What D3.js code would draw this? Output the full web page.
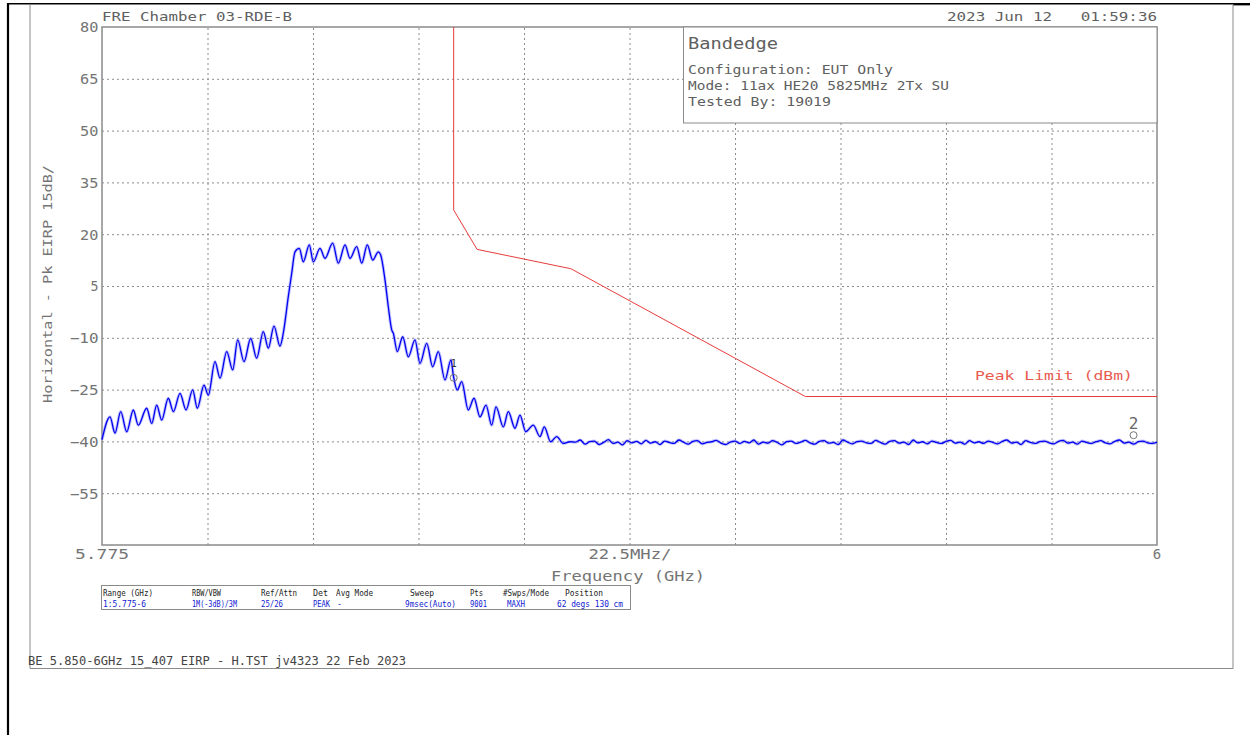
<!DOCTYPE html>
<html><head><meta charset="utf-8">
<script src="https://cdn.jsdelivr.net/npm/d3@7"></script>
<style>body{margin:0;background:#fff}svg{display:block}text{font-family:"DejaVu Sans Mono",monospace}</style>
</head><body><svg id="c" width="1250" height="735"></svg>
<script>
// ---- data (frequency in MHz, level in dBm) ----
const traceFreq=[5775.0,5776.71,5777.77,5778.99,5780.27,5781.68,5782.74,5784.53,5785.60,5786.67,5787.73,5789.14,5790.21,5791.64,5792.92,5794.34,5795.33,5796.75,5797.67,5799.10,5800.17,5801.60,5802.88,5803.94,5805.29,5806.71,5807.99,5809.40,5810.47,5811.68,5812.96,5813.67,5814.73,5815.46,5816.16,5817.08,5817.93,5819.21,5820.07,5821.49,5822.56,5824.20,5825.40,5826.83,5827.89,5829.32,5830.39,5831.58,5832.73,5833.93,5834.44,5835.36,5836.06,5836.79,5837.13,5837.98,5839.13,5840.33,5841.75,5842.82,5844.25,5845.53,5846.72,5848.15,5849.43,5849.92,5850.78,5851.71,5853.12,5854.34,5855.62,5856.90,5858.11,5859.03,5860.59,5861.65,5863.08,5864.15,5865.36,5866.98,5868.41,5869.33,5870.69,5871.97,5873.38,5874.81];
const traceLevel=[-39.5,-32.9,-37.6,-31.4,-37.2,-30.9,-35.3,-30.4,-34.8,-29.5,-33.8,-27.5,-31.4,-26.1,-30.9,-25.1,-30.4,-23.7,-26.6,-16.9,-21.7,-14.0,-19.3,-10.6,-16.9,-10.2,-15.9,-8.2,-13.0,-6.6,-12.4,-8.6,1.9,8.7,14.9,15.9,12.0,16.9,12.0,15.9,13.0,17.4,11.6,16.9,13.0,16.4,11.6,16.9,12.5,14.9,14.0,6.7,-1.0,-7.7,-8.7,-14.0,-9.7,-15.5,-10.6,-17.4,-11.6,-18.4,-14.0,-22.2,-16.4,-20.8,-25.1,-22.7,-30.9,-27.5,-32.9,-29.5,-35.3,-30.0,-35.8,-31.4,-36.2,-32.4,-37.2,-35.3,-38.6,-35.8,-40.1,-38.6,-40.6,-40.1];
const floorStart=5876, floorStep=1;
const floorLevel=[-40.2,-39.6,-40.8,-40.1,-39.9,-40.9,-40.3,-39.5,-40.6,-40.2,
-41.0,-39.8,-40.4,-40.0,-40.7,-39.7,-40.5,-40.1,-40.9,-39.9,
-40.3,-40.6,-39.6,-40.2,-40.8,-40.0,-39.8,-40.7,-40.3,-40.1,
-39.7,-40.5,-40.9,-40.2,-39.9,-40.6,-40.0,-40.4,-39.6,-40.8,
-40.2,-40.5,-39.8,-40.3,-41.0,-40.1,-39.9,-40.6,-40.2,-39.7,
-40.4,-40.8,-40.0,-39.8,-40.5,-40.3,-40.9,-39.6,-40.2,-40.7,
-40.1,-39.9,-40.4,-40.6,-39.7,-40.3,-40.8,-40.0,-39.8,-40.5,
-40.2,-40.9,-39.6,-40.4,-40.1,-40.7,-39.9,-40.3,-40.6,-40.0,
-39.7,-40.5,-40.2,-40.8,-39.8,-40.4,-40.1,-40.6,-39.9,-40.3,
-40.7,-40.0,-39.6,-40.5,-40.2,-40.9,-39.8,-40.3,-40.6,-40.1,
-39.9,-40.4,-40.7,-40.0,-39.7,-40.5,-40.2,-40.8,-39.9,-40.3,
-40.6,-40.1,-39.8,-40.4,-40.7,-40.0,-39.6,-40.5,-40.2,-40.8,
-40.1,-39.9,-40.4,-40.6,-40.2];
const limitFreq=[5850,5850,5855,5875,5925,6000];
const limitLevel=[80,27,15.6,10,-27,-27];
const yTicks=[80,65,50,35,20,5,-10,-25,-40,-55];
const yGrid=[65,50,35,20,5,-10,-25,-40,-55];
const xGrid=[5797.5,5820,5842.5,5865,5887.5,5910,5932.5,5955,5977.5];
const markerId=["1","2"], markerFreq=[5850,5995], markerLevel=[-21.6,-38.2];
const infoLines=["Configuration: EUT Only","Mode: 11ax HE20 5825MHz 2Tx SU","Tested By: 19019"];
const tableHead=["Range (GHz)","RBW/VBW","Ref/Attn","Det","Avg Mode","Sweep","Pts","#Swps/Mode","Position"];
const tableVal=["1:5.775-6","1M(-3dB)/3M","25/26","PEAK","-","9msec(Auto)","9001","MAXH","62 degs 130 cm"];

// ---- layout ----
const svg=d3.select("#c");
const L=102,R=1157,T=27,B=545;
const x=d3.scaleLinear().domain([5775,6000]).range([L,R]);
const y=d3.scaleLinear().domain([-70,80]).range([B,T]);
const gray="#747474";

function txt(s,px,py,o={}){
  const t=svg.append("text").attr("x",px).attr("y",py).text(s)
    .attr("font-size",o.fs||12).attr("fill",o.fill||gray)
    .attr("text-anchor",o.anchor||"start").attr("xml:space","preserve");
  if(o.w){t.attr("textLength",o.w).attr("lengthAdjust","spacingAndGlyphs");}
  if(o.tr)t.attr("transform",o.tr);
  return t;
}

// frames
svg.append("line").attr("x1",8).attr("x2",8).attr("y1",3).attr("y2",735).attr("stroke","#000").attr("stroke-width",2.2);
svg.append("line").attr("x1",8).attr("x2",1250).attr("y1",3.8).attr("y2",3.8).attr("stroke","#000").attr("stroke-width",1.6);
svg.append("line").attr("x1",1233).attr("x2",1250).attr("y1",4.2).attr("y2",4.2).attr("stroke","#000").attr("stroke-width",2.4);
svg.append("path").attr("d","M30,4V668.5H1233V4").attr("fill","none").attr("stroke","#8a8a8a").attr("stroke-width",1);

// grid via axes
const gx=svg.append("g").attr("transform",`translate(0,${B})`)
  .call(d3.axisBottom(x).tickValues(xGrid).tickSize(-(B-T)).tickFormat(""));
gx.select(".domain").remove();
gx.selectAll("line").attr("stroke","#8c8c8c").attr("stroke-dasharray","2,3");
const gy=svg.append("g").attr("transform",`translate(${L},0)`)
  .call(d3.axisLeft(y).tickValues(yGrid).tickSize(-(R-L)).tickFormat(""));
gy.select(".domain").remove();
gy.selectAll("line").attr("stroke","#8c8c8c").attr("stroke-dasharray","2,3");

// y tick labels
const ya=svg.append("g").attr("transform",`translate(${L},0)`)
  .call(d3.axisLeft(y).tickValues(yTicks).tickSize(0).tickPadding(3.5));
ya.select(".domain").remove();
ya.selectAll("text").attr("font-family","DejaVu Sans Mono").attr("font-size",13.5).attr("fill",gray)
  .attr("dy","0.36em")
  .attr("textLength",d=>String(d).length*10.4-2.4).attr("lengthAdjust","spacingAndGlyphs");

// plot border
svg.append("rect").attr("x",L).attr("y",T).attr("width",R-L).attr("height",B-T)
  .attr("fill","none").attr("stroke","#8a8a8a").attr("stroke-width",1.5);

// info box
svg.append("rect").attr("x",683.5).attr("y",T).attr("width",R-683.5).attr("height",123-T)
  .attr("fill","#fff").attr("stroke","#8a8a8a").attr("stroke-width",1);
txt("Bandedge",688,49,{fs:15,w:90,fill:"#606060"});
const infoW=[205,261,143];
infoLines.forEach((s,i)=>txt(s,688,74+i*16,{fs:12,w:infoW[i],fill:"#606060"}));

// limit line
const lim=limitFreq.map((f,i)=>[f,limitLevel[i]]);
svg.append("path").attr("d",d3.line().x(d=>x(d[0])).y(d=>y(d[1]))(lim))
  .attr("fill","none").attr("stroke","#e83c3c").attr("stroke-width",1);
txt("Peak Limit (dBm)",975,380,{fs:13,w:158,fill:"#e85a50"});

// trace
const pts=traceFreq.map((f,i)=>[f,traceLevel[i]])
  .concat(floorLevel.map((v,i)=>[floorStart+i*floorStep,v]));
const ln=d3.line().x(d=>x(d[0])).y(d=>y(d[1])).curve(d3.curveMonotoneX);
svg.append("path").attr("d",ln(pts)).attr("fill","none").attr("stroke","#7070ff").attr("stroke-opacity",0.4).attr("stroke-width",3.2).attr("stroke-linejoin","round");
svg.append("path").attr("d",ln(pts)).attr("fill","none").attr("stroke","#0000f0").attr("stroke-width",1.3).attr("stroke-linejoin","round");

// markers
markerId.forEach((id,i)=>{
  const cx=x(markerFreq[i]),cy=y(markerLevel[i]);
  svg.append("circle").attr("cx",cx).attr("cy",cy).attr("r",3.5).attr("fill","none").attr("stroke","#777").attr("stroke-width",1);
  if(id==="1") txt(id,cx,cy-11,{fs:10,anchor:"middle",fill:"#333"});
  else txt(id,cx,cy-6.5,{fs:16,anchor:"middle",fill:"#666"});
});

// titles
txt("FRE Chamber 03-RDE-B",102,20.5,{fs:12,w:190,fill:"#606060"});
txt("2023 Jun 12   01:59:36",947,20.5,{fs:12,w:210,fill:"#606060"});
txt("5.775",x(5775),559,{fs:14,anchor:"middle",w:54});
txt("22.5MHz/",630,559,{fs:14,anchor:"middle",w:83});
txt("6",x(6000),559,{fs:14,anchor:"middle"});
txt("Frequency (GHz)",628,581,{fs:14,anchor:"middle",w:154});
txt("Horizontal - Pk EIRP 15dB/",0,0,{fs:13,anchor:"middle",w:238,tr:"translate(51.5,284) rotate(-90)"});

// settings table
svg.append("rect").attr("x",101.5).attr("y",585.5).attr("width",529).attr("height",24)
  .attr("fill","none").attr("stroke","#8a8a8a").attr("stroke-width",1);
const hx=[103,192,261,313,336,410,470,503,565], hw=[50,29,36,15,37,24,13,46,38];
const vx=[103,192,261,313,337,405,470,507,557], vw=[43,45,22,17,5,51,17,18,66];
tableHead.forEach((s,i)=>txt(s,hx[i],596,{fs:8,w:hw[i],fill:"#222"}));
tableVal.forEach((s,i)=>txt(s,vx[i],606.5,{fs:8,w:vw[i],fill:"#1020d0"}));

// footer
txt("BE 5.850-6GHz 15_407 EIRP - H.TST jv4323 22 Feb 2023",28,665,{fs:11.5,w:378,fill:"#444"});
</script></body></html>
